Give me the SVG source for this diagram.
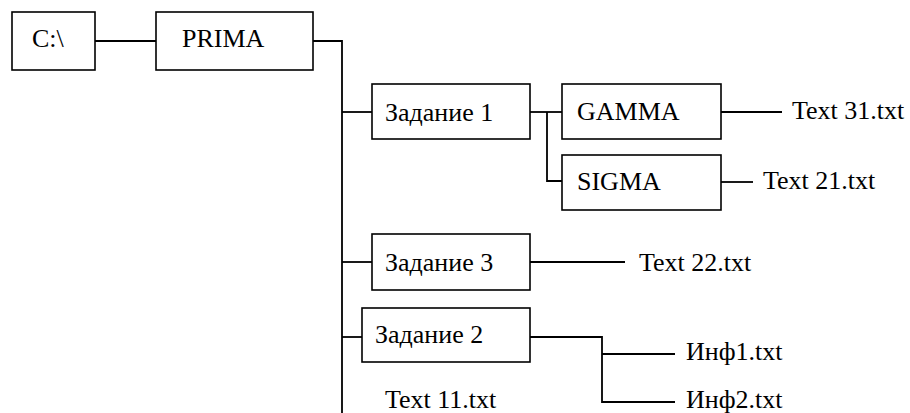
<svg xmlns="http://www.w3.org/2000/svg" width="910" height="413" viewBox="0 0 910 413">
<style>
.box{fill:#fff;stroke:#000;stroke-width:1.6}
.c{fill:none;stroke:#000;stroke-width:1.8}
.t{font-family:'Liberation Serif','Times New Roman',Times,'DejaVu Serif',serif;font-size:26px;fill:#000}
</style>
<rect width="910" height="413" fill="#fff"/>
<g id="connectors">
<line class="c" x1="95" y1="41" x2="156" y2="41"/>
<polyline class="c" points="313,41 342,41 342,413"/>
<line class="c" x1="342" y1="112" x2="372" y2="112"/>
<line class="c" x1="342" y1="262" x2="372" y2="262"/>
<line class="c" x1="342" y1="337" x2="362" y2="337"/>
<line class="c" x1="530" y1="112" x2="562" y2="112"/>
<polyline class="c" points="547,112 547,181 562,181"/>
<line class="c" x1="721" y1="112" x2="782" y2="112"/>
<line class="c" x1="721" y1="182" x2="753" y2="182"/>
<line class="c" x1="530" y1="262" x2="625" y2="262"/>
<polyline class="c" points="530,337 602,337 602,402 675,402"/>
<line class="c" x1="602" y1="354" x2="675" y2="354"/>
</g>
<g id="c-drive"><rect class="box" x="12" y="12" width="83" height="58"/><text class="t" x="32" y="47">C:\</text></g>
<g id="prima"><rect class="box" x="156" y="12" width="157" height="58"/><text class="t" x="182" y="47">PRIMA</text></g>
<g id="zadanie1"><rect class="box" x="372" y="84" width="158" height="55"/><text class="t" x="385" y="121">Задание 1</text></g>
<g id="gamma"><rect class="box" x="562" y="84" width="159" height="55"/><text class="t" x="577" y="120">GAMMA</text></g>
<g id="sigma"><rect class="box" x="562" y="155" width="159" height="55"/><text class="t" x="577" y="190">SIGMA</text></g>
<g id="text31"><text class="t" x="792" y="119">Text 31.txt</text></g>
<g id="text21"><text class="t" x="763" y="189">Text 21.txt</text></g>
<g id="zadanie3"><rect class="box" x="372" y="234" width="158" height="56"/><text class="t" x="385" y="271">Задание 3</text></g>
<g id="text22"><text class="t" x="639" y="271">Text 22.txt</text></g>
<g id="zadanie2"><rect class="box" x="362" y="308" width="168" height="54"/><text class="t" x="375" y="343">Задание 2</text></g>
<g id="inf1"><text class="t" x="686" y="360">Инф1.txt</text></g>
<g id="inf2"><text class="t" x="686" y="408">Инф2.txt</text></g>
<g id="text11"><text class="t" x="385" y="408">Text 11.txt</text></g>
</svg>
